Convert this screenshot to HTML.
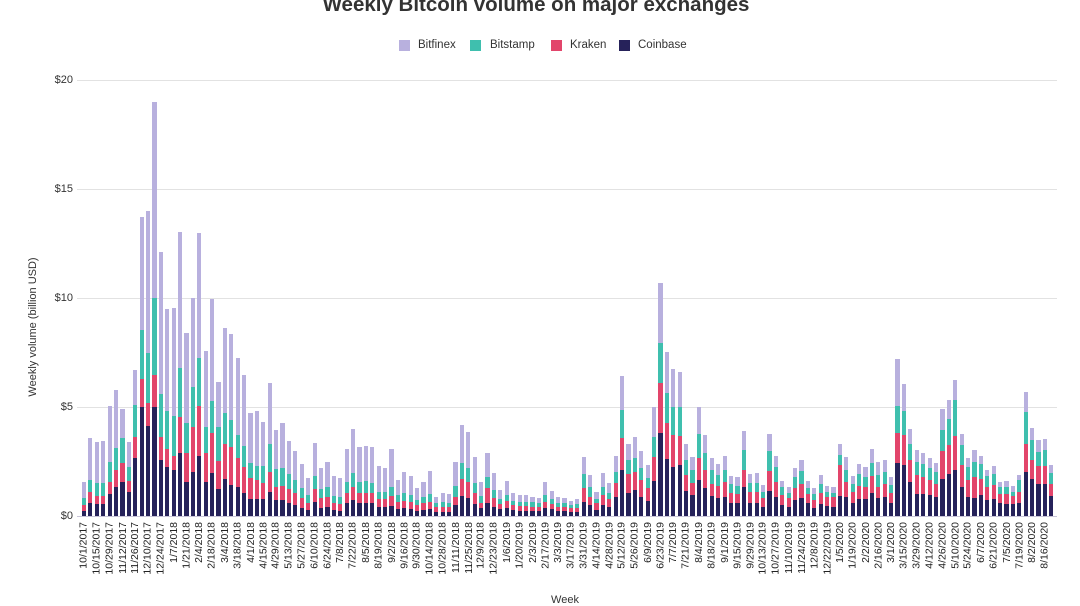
<!DOCTYPE html>
<html>
<head>
<meta charset="utf-8">
<style>
html,body{margin:0;padding:0;background:#fff;}
body{width:1080px;height:598px;overflow:hidden;position:relative;font-family:"Liberation Sans",Arial,sans-serif;color:#333;}
.title{position:absolute;left:0;top:-5px;width:1072px;text-align:center;font-size:20.5px;line-height:20px;font-weight:bold;color:#333;white-space:nowrap;}
.lg{position:absolute;top:40px;width:11px;height:11px;}
.lt{position:absolute;top:39px;font-size:11.5px;line-height:13px;color:#333;white-space:nowrap;}
.grid{position:absolute;left:77px;width:980px;height:1px;background:#e2e2e2;}
.yl{position:absolute;right:1007px;font-size:11px;line-height:12px;color:#333;text-align:right;white-space:nowrap;}
.ytitle{position:absolute;left:33px;top:327px;width:0;height:0;}
.ytitle span{position:absolute;left:-100px;top:-7px;width:200px;text-align:center;font-size:11px;line-height:14px;color:#333;transform:rotate(-90deg);transform-origin:50% 50%;white-space:nowrap;}
.bars{position:absolute;left:80.79px;top:516px;height:0;display:flex;}
.b{position:relative;flex:0 0 6.413px;width:6.413px;height:0;}
.b i{position:absolute;bottom:0;left:1.1px;width:4.2px;display:block;}
.b i:nth-child(1){height:calc(var(--t)*21.8px);background:#b8b0de;}
.b i:nth-child(2){height:calc(var(--s)*21.8px);background:#3fbfae;}
.b i:nth-child(3){height:calc(var(--k)*21.8px);background:#e2456b;}
.b i:nth-child(4){height:calc(var(--c)*21.8px);background:#26225a;}
.lx{position:absolute;left:80.79px;top:522px;height:0;display:flex;}
.l{position:relative;flex:0 0 12.826px;width:12.826px;height:0;}
.l span{position:absolute;right:9.62px;top:-6px;line-height:12px;font-size:10.5px;color:#222;white-space:nowrap;transform-origin:100% 50%;transform:rotate(-90deg);}
.xt{position:absolute;left:540px;width:50px;text-align:center;top:594px;font-size:11px;line-height:12px;color:#333;}
</style>
</head>
<body>
<div class="title">Weekly Bitcoin volume on major exchanges</div>

<div class="lg" style="left:399px;background:#b8b0de"></div><div class="lt" style="left:418px">Bitfinex</div>
<div class="lg" style="left:470px;background:#3fbfae"></div><div class="lt" style="left:490px">Bitstamp</div>
<div class="lg" style="left:551px;background:#e2456b"></div><div class="lt" style="left:570px">Kraken</div>
<div class="lg" style="left:619px;background:#26225a"></div><div class="lt" style="left:638px">Coinbase</div>

<div class="grid" style="top:80px"></div>
<div class="grid" style="top:189px"></div>
<div class="grid" style="top:298px"></div>
<div class="grid" style="top:407px"></div>
<div class="grid" style="top:516px;background:#c8c4d8"></div>

<div class="yl" style="top:74px">$20</div>
<div class="yl" style="top:183px">$15</div>
<div class="yl" style="top:292px">$10</div>
<div class="yl" style="top:401px">$5</div>
<div class="yl" style="top:510px">$0</div>

<div class="ytitle"><span>Weekly volume (billion USD)</span></div>

<div class="bars">
<div class="b" style="--t:1.57;--s:.81;--k:.5;--c:.24"><i></i><i></i><i></i><i></i></div>
<div class="b" style="--t:3.56;--s:1.65;--k:1.12;--c:.58"><i></i><i></i><i></i><i></i></div>
<div class="b" style="--t:3.38;--s:1.53;--k:.92;--c:.55"><i></i><i></i><i></i><i></i></div>
<div class="b" style="--t:3.44;--s:1.53;--k:.92;--c:.55"><i></i><i></i><i></i><i></i></div>
<div class="b" style="--t:5.06;--s:2.49;--k:1.57;--c:1.0"><i></i><i></i><i></i><i></i></div>
<div class="b" style="--t:5.78;--s:3.1;--k:2.11;--c:1.35"><i></i><i></i><i></i><i></i></div>
<div class="b" style="--t:4.89;--s:3.56;--k:2.42;--c:1.57"><i></i><i></i><i></i><i></i></div>
<div class="b" style="--t:3.38;--s:2.26;--k:1.62;--c:1.12"><i></i><i></i><i></i><i></i></div>
<div class="b" style="--t:6.7;--s:5.09;--k:3.64;--c:2.68"><i></i><i></i><i></i><i></i></div>
<div class="b" style="--t:13.73;--s:8.53;--k:6.27;--c:5.02"><i></i><i></i><i></i><i></i></div>
<div class="b" style="--t:13.99;--s:7.46;--k:5.17;--c:4.13"><i></i><i></i><i></i><i></i></div>
<div class="b" style="--t:19.0;--s:9.98;--k:6.47;--c:5.02"><i></i><i></i><i></i><i></i></div>
<div class="b" style="--t:12.13;--s:5.6;--k:3.61;--c:2.57"><i></i><i></i><i></i><i></i></div>
<div class="b" style="--t:9.48;--s:4.83;--k:3.06;--c:2.26"><i></i><i></i><i></i><i></i></div>
<div class="b" style="--t:9.56;--s:4.59;--k:2.75;--c:2.11"><i></i><i></i><i></i><i></i></div>
<div class="b" style="--t:13.01;--s:6.77;--k:4.56;--c:2.91"><i></i><i></i><i></i><i></i></div>
<div class="b" style="--t:8.41;--s:4.28;--k:2.91;--c:1.57"><i></i><i></i><i></i><i></i></div>
<div class="b" style="--t:9.98;--s:5.93;--k:4.07;--c:2.03"><i></i><i></i><i></i><i></i></div>
<div class="b" style="--t:13.0;--s:7.23;--k:5.05;--c:2.77"><i></i><i></i><i></i><i></i></div>
<div class="b" style="--t:7.57;--s:4.1;--k:2.87;--c:1.57"><i></i><i></i><i></i><i></i></div>
<div class="b" style="--t:9.94;--s:5.29;--k:3.79;--c:1.99"><i></i><i></i><i></i><i></i></div>
<div class="b" style="--t:6.16;--s:4.1;--k:2.54;--c:1.25"><i></i><i></i><i></i><i></i></div>
<div class="b" style="--t:8.61;--s:4.71;--k:3.29;--c:1.68"><i></i><i></i><i></i><i></i></div>
<div class="b" style="--t:8.33;--s:4.4;--k:3.15;--c:1.41"><i></i><i></i><i></i><i></i></div>
<div class="b" style="--t:7.23;--s:3.72;--k:2.65;--c:1.31"><i></i><i></i><i></i><i></i></div>
<div class="b" style="--t:6.47;--s:3.23;--k:2.23;--c:1.04"><i></i><i></i><i></i><i></i></div>
<div class="b" style="--t:4.74;--s:2.42;--k:1.73;--c:.8"><i></i><i></i><i></i><i></i></div>
<div class="b" style="--t:4.83;--s:2.31;--k:1.65;--c:.78"><i></i><i></i><i></i><i></i></div>
<div class="b" style="--t:4.3;--s:2.31;--k:1.53;--c:.8"><i></i><i></i><i></i><i></i></div>
<div class="b" style="--t:6.09;--s:3.3;--k:2.03;--c:1.09"><i></i><i></i><i></i><i></i></div>
<div class="b" style="--t:3.94;--s:2.14;--k:1.35;--c:.73"><i></i><i></i><i></i><i></i></div>
<div class="b" style="--t:4.28;--s:2.22;--k:1.38;--c:.73"><i></i><i></i><i></i><i></i></div>
<div class="b" style="--t:3.46;--s:1.93;--k:1.22;--c:.61"><i></i><i></i><i></i><i></i></div>
<div class="b" style="--t:3.0;--s:1.65;--k:1.07;--c:.5"><i></i><i></i><i></i><i></i></div>
<div class="b" style="--t:2.37;--s:1.27;--k:.81;--c:.38"><i></i><i></i><i></i><i></i></div>
<div class="b" style="--t:1.73;--s:.96;--k:.61;--c:.28"><i></i><i></i><i></i><i></i></div>
<div class="b" style="--t:3.33;--s:1.83;--k:1.22;--c:.66"><i></i><i></i><i></i><i></i></div>
<div class="b" style="--t:2.19;--s:1.22;--k:.81;--c:.38"><i></i><i></i><i></i><i></i></div>
<div class="b" style="--t:2.49;--s:1.31;--k:.89;--c:.43"><i></i><i></i><i></i><i></i></div>
<div class="b" style="--t:1.83;--s:.92;--k:.58;--c:.28"><i></i><i></i><i></i><i></i></div>
<div class="b" style="--t:1.73;--s:.89;--k:.55;--c:.24"><i></i><i></i><i></i><i></i></div>
<div class="b" style="--t:3.06;--s:1.57;--k:1.07;--c:.58"><i></i><i></i><i></i><i></i></div>
<div class="b" style="--t:3.99;--s:1.99;--k:1.31;--c:.73"><i></i><i></i><i></i><i></i></div>
<div class="b" style="--t:3.18;--s:1.57;--k:1.07;--c:.58"><i></i><i></i><i></i><i></i></div>
<div class="b" style="--t:3.23;--s:1.62;--k:1.07;--c:.58"><i></i><i></i><i></i><i></i></div>
<div class="b" style="--t:3.15;--s:1.53;--k:1.04;--c:.58"><i></i><i></i><i></i><i></i></div>
<div class="b" style="--t:2.31;--s:1.12;--k:.76;--c:.4"><i></i><i></i><i></i><i></i></div>
<div class="b" style="--t:2.22;--s:1.12;--k:.76;--c:.4"><i></i><i></i><i></i><i></i></div>
<div class="b" style="--t:3.07;--s:1.35;--k:.92;--c:.46"><i></i><i></i><i></i><i></i></div>
<div class="b" style="--t:1.65;--s:.96;--k:.66;--c:.31"><i></i><i></i><i></i><i></i></div>
<div class="b" style="--t:2.0;--s:1.04;--k:.7;--c:.35"><i></i><i></i><i></i><i></i></div>
<div class="b" style="--t:1.83;--s:.96;--k:.66;--c:.31"><i></i><i></i><i></i><i></i></div>
<div class="b" style="--t:1.27;--s:.73;--k:.5;--c:.24"><i></i><i></i><i></i><i></i></div>
<div class="b" style="--t:1.57;--s:.89;--k:.58;--c:.28"><i></i><i></i><i></i><i></i></div>
<div class="b" style="--t:2.06;--s:.99;--k:.66;--c:.34"><i></i><i></i><i></i><i></i></div>
<div class="b" style="--t:.89;--s:.58;--k:.4;--c:.2"><i></i><i></i><i></i><i></i></div>
<div class="b" style="--t:1.07;--s:.66;--k:.43;--c:.2"><i></i><i></i><i></i><i></i></div>
<div class="b" style="--t:.99;--s:.58;--k:.4;--c:.2"><i></i><i></i><i></i><i></i></div>
<div class="b" style="--t:2.46;--s:1.38;--k:.89;--c:.5"><i></i><i></i><i></i><i></i></div>
<div class="b" style="--t:4.17;--s:2.42;--k:1.68;--c:.92"><i></i><i></i><i></i><i></i></div>
<div class="b" style="--t:3.84;--s:2.22;--k:1.57;--c:.81"><i></i><i></i><i></i><i></i></div>
<div class="b" style="--t:2.72;--s:1.53;--k:1.04;--c:.55"><i></i><i></i><i></i><i></i></div>
<div class="b" style="--t:1.57;--s:.92;--k:.61;--c:.35"><i></i><i></i><i></i><i></i></div>
<div class="b" style="--t:2.9;--s:1.8;--k:1.27;--c:.58"><i></i><i></i><i></i><i></i></div>
<div class="b" style="--t:1.99;--s:1.19;--k:.81;--c:.43"><i></i><i></i><i></i><i></i></div>
<div class="b" style="--t:1.19;--s:.76;--k:.55;--c:.31"><i></i><i></i><i></i><i></i></div>
<div class="b" style="--t:1.62;--s:.96;--k:.7;--c:.35"><i></i><i></i><i></i><i></i></div>
<div class="b" style="--t:1.07;--s:.7;--k:.5;--c:.28"><i></i><i></i><i></i><i></i></div>
<div class="b" style="--t:.95;--s:.66;--k:.46;--c:.24"><i></i><i></i><i></i><i></i></div>
<div class="b" style="--t:.95;--s:.64;--k:.46;--c:.24"><i></i><i></i><i></i><i></i></div>
<div class="b" style="--t:.89;--s:.63;--k:.43;--c:.24"><i></i><i></i><i></i><i></i></div>
<div class="b" style="--t:.81;--s:.58;--k:.4;--c:.21"><i></i><i></i><i></i><i></i></div>
<div class="b" style="--t:1.57;--s:.95;--k:.64;--c:.35"><i></i><i></i><i></i><i></i></div>
<div class="b" style="--t:1.15;--s:.76;--k:.55;--c:.31"><i></i><i></i><i></i><i></i></div>
<div class="b" style="--t:.86;--s:.61;--k:.43;--c:.23"><i></i><i></i><i></i><i></i></div>
<div class="b" style="--t:.81;--s:.58;--k:.4;--c:.21"><i></i><i></i><i></i><i></i></div>
<div class="b" style="--t:.7;--s:.5;--k:.35;--c:.18"><i></i><i></i><i></i><i></i></div>
<div class="b" style="--t:.76;--s:.53;--k:.38;--c:.2"><i></i><i></i><i></i><i></i></div>
<div class="b" style="--t:2.72;--s:1.93;--k:1.27;--c:.63"><i></i><i></i><i></i><i></i></div>
<div class="b" style="--t:1.87;--s:1.31;--k:.89;--c:.5"><i></i><i></i><i></i><i></i></div>
<div class="b" style="--t:1.12;--s:.76;--k:.58;--c:.28"><i></i><i></i><i></i><i></i></div>
<div class="b" style="--t:1.96;--s:1.35;--k:.96;--c:.5"><i></i><i></i><i></i><i></i></div>
<div class="b" style="--t:1.5;--s:1.07;--k:.76;--c:.4"><i></i><i></i><i></i><i></i></div>
<div class="b" style="--t:2.75;--s:2.03;--k:1.5;--c:.86"><i></i><i></i><i></i><i></i></div>
<div class="b" style="--t:6.42;--s:4.86;--k:3.56;--c:2.11"><i></i><i></i><i></i><i></i></div>
<div class="b" style="--t:3.3;--s:2.57;--k:1.93;--c:1.04"><i></i><i></i><i></i><i></i></div>
<div class="b" style="--t:3.61;--s:2.65;--k:2.03;--c:1.19"><i></i><i></i><i></i><i></i></div>
<div class="b" style="--t:2.98;--s:2.19;--k:1.65;--c:.86"><i></i><i></i><i></i><i></i></div>
<div class="b" style="--t:2.34;--s:1.73;--k:1.27;--c:.7"><i></i><i></i><i></i><i></i></div>
<div class="b" style="--t:5.02;--s:3.61;--k:2.72;--c:1.62"><i></i><i></i><i></i><i></i></div>
<div class="b" style="--t:10.7;--s:7.95;--k:6.09;--c:3.82"><i></i><i></i><i></i><i></i></div>
<div class="b" style="--t:7.54;--s:5.66;--k:4.25;--c:2.63"><i></i><i></i><i></i><i></i></div>
<div class="b" style="--t:6.73;--s:5.02;--k:3.72;--c:2.26"><i></i><i></i><i></i><i></i></div>
<div class="b" style="--t:6.6;--s:5.0;--k:3.66;--c:2.33"><i></i><i></i><i></i><i></i></div>
<div class="b" style="--t:3.32;--s:2.59;--k:1.88;--c:1.16"><i></i><i></i><i></i><i></i></div>
<div class="b" style="--t:2.71;--s:2.1;--k:1.52;--c:.96"><i></i><i></i><i></i><i></i></div>
<div class="b" style="--t:5.0;--s:3.78;--k:2.68;--c:1.65"><i></i><i></i><i></i><i></i></div>
<div class="b" style="--t:3.7;--s:2.9;--k:2.1;--c:1.3"><i></i><i></i><i></i><i></i></div>
<div class="b" style="--t:2.68;--s:2.1;--k:1.49;--c:.91"><i></i><i></i><i></i><i></i></div>
<div class="b" style="--t:2.38;--s:1.88;--k:1.37;--c:.82"><i></i><i></i><i></i><i></i></div>
<div class="b" style="--t:2.74;--s:2.13;--k:1.57;--c:.85"><i></i><i></i><i></i><i></i></div>
<div class="b" style="--t:1.83;--s:1.46;--k:1.07;--c:.61"><i></i><i></i><i></i><i></i></div>
<div class="b" style="--t:1.77;--s:1.37;--k:1.01;--c:.58"><i></i><i></i><i></i><i></i></div>
<div class="b" style="--t:3.9;--s:3.05;--k:2.13;--c:1.31"><i></i><i></i><i></i><i></i></div>
<div class="b" style="--t:1.95;--s:1.52;--k:1.11;--c:.58"><i></i><i></i><i></i><i></i></div>
<div class="b" style="--t:1.98;--s:1.52;--k:1.11;--c:.58"><i></i><i></i><i></i><i></i></div>
<div class="b" style="--t:1.42;--s:1.11;--k:.81;--c:.43"><i></i><i></i><i></i><i></i></div>
<div class="b" style="--t:3.75;--s:2.99;--k:2.07;--c:1.16"><i></i><i></i><i></i><i></i></div>
<div class="b" style="--t:2.74;--s:2.26;--k:1.57;--c:.88"><i></i><i></i><i></i><i></i></div>
<div class="b" style="--t:1.62;--s:1.31;--k:.96;--c:.5"><i></i><i></i><i></i><i></i></div>
<div class="b" style="--t:1.34;--s:1.07;--k:.81;--c:.43"><i></i><i></i><i></i><i></i></div>
<div class="b" style="--t:2.21;--s:1.77;--k:1.27;--c:.73"><i></i><i></i><i></i><i></i></div>
<div class="b" style="--t:2.59;--s:2.07;--k:1.46;--c:.81"><i></i><i></i><i></i><i></i></div>
<div class="b" style="--t:1.62;--s:1.27;--k:1.01;--c:.58"><i></i><i></i><i></i><i></i></div>
<div class="b" style="--t:1.27;--s:1.01;--k:.73;--c:.35"><i></i><i></i><i></i><i></i></div>
<div class="b" style="--t:1.88;--s:1.46;--k:1.07;--c:.55"><i></i><i></i><i></i><i></i></div>
<div class="b" style="--t:1.37;--s:1.11;--k:.88;--c:.47"><i></i><i></i><i></i><i></i></div>
<div class="b" style="--t:1.34;--s:1.07;--k:.85;--c:.43"><i></i><i></i><i></i><i></i></div>
<div class="b" style="--t:3.32;--s:2.79;--k:2.33;--c:.91"><i></i><i></i><i></i><i></i></div>
<div class="b" style="--t:2.71;--s:2.13;--k:1.57;--c:.88"><i></i><i></i><i></i><i></i></div>
<div class="b" style="--t:1.83;--s:1.46;--k:1.11;--c:.58"><i></i><i></i><i></i><i></i></div>
<div class="b" style="--t:2.38;--s:1.95;--k:1.37;--c:.76"><i></i><i></i><i></i><i></i></div>
<div class="b" style="--t:2.26;--s:1.8;--k:1.31;--c:.76"><i></i><i></i><i></i><i></i></div>
<div class="b" style="--t:3.09;--s:2.44;--k:1.83;--c:1.07"><i></i><i></i><i></i><i></i></div>
<div class="b" style="--t:2.48;--s:1.88;--k:1.34;--c:.81"><i></i><i></i><i></i><i></i></div>
<div class="b" style="--t:2.59;--s:2.03;--k:1.49;--c:.88"><i></i><i></i><i></i><i></i></div>
<div class="b" style="--t:1.77;--s:1.42;--k:1.07;--c:.58"><i></i><i></i><i></i><i></i></div>
<div class="b" style="--t:7.21;--s:5.03;--k:3.81;--c:2.41"><i></i><i></i><i></i><i></i></div>
<div class="b" style="--t:6.04;--s:4.82;--k:3.7;--c:2.33"><i></i><i></i><i></i><i></i></div>
<div class="b" style="--t:4.01;--s:3.32;--k:2.56;--c:1.57"><i></i><i></i><i></i><i></i></div>
<div class="b" style="--t:3.05;--s:2.48;--k:1.88;--c:1.01"><i></i><i></i><i></i><i></i></div>
<div class="b" style="--t:2.87;--s:2.38;--k:1.8;--c:1.01"><i></i><i></i><i></i><i></i></div>
<div class="b" style="--t:2.64;--s:2.18;--k:1.65;--c:.96"><i></i><i></i><i></i><i></i></div>
<div class="b" style="--t:2.44;--s:2.03;--k:1.49;--c:.88"><i></i><i></i><i></i><i></i></div>
<div class="b" style="--t:4.92;--s:3.96;--k:2.99;--c:1.72"><i></i><i></i><i></i><i></i></div>
<div class="b" style="--t:5.3;--s:4.47;--k:3.25;--c:1.91"><i></i><i></i><i></i><i></i></div>
<div class="b" style="--t:6.25;--s:5.3;--k:3.66;--c:2.13"><i></i><i></i><i></i><i></i></div>
<div class="b" style="--t:3.78;--s:3.25;--k:2.33;--c:1.31"><i></i><i></i><i></i><i></i></div>
<div class="b" style="--t:2.64;--s:2.26;--k:1.65;--c:.85"><i></i><i></i><i></i><i></i></div>
<div class="b" style="--t:3.02;--s:2.48;--k:1.8;--c:.81"><i></i><i></i><i></i><i></i></div>
<div class="b" style="--t:2.74;--s:2.38;--k:1.68;--c:.96"><i></i><i></i><i></i><i></i></div>
<div class="b" style="--t:2.1;--s:1.83;--k:1.34;--c:.73"><i></i><i></i><i></i><i></i></div>
<div class="b" style="--t:2.29;--s:1.95;--k:1.42;--c:.76"><i></i><i></i><i></i><i></i></div>
<div class="b" style="--t:1.57;--s:1.34;--k:1.01;--c:.58"><i></i><i></i><i></i><i></i></div>
<div class="b" style="--t:1.62;--s:1.34;--k:1.01;--c:.55"><i></i><i></i><i></i><i></i></div>
<div class="b" style="--t:1.37;--s:1.11;--k:.91;--c:.55"><i></i><i></i><i></i><i></i></div>
<div class="b" style="--t:1.88;--s:1.65;--k:1.11;--c:.61"><i></i><i></i><i></i><i></i></div>
<div class="b" style="--t:5.69;--s:4.77;--k:3.32;--c:2.01"><i></i><i></i><i></i><i></i></div>
<div class="b" style="--t:4.05;--s:3.48;--k:2.56;--c:1.68"><i></i><i></i><i></i><i></i></div>
<div class="b" style="--t:3.48;--s:2.94;--k:2.29;--c:1.46"><i></i><i></i><i></i><i></i></div>
<div class="b" style="--t:3.55;--s:3.02;--k:2.29;--c:1.45"><i></i><i></i><i></i><i></i></div>
<div class="b" style="--t:2.33;--s:1.98;--k:1.49;--c:.91"><i></i><i></i><i></i><i></i></div>
</div>

<div class="lx">
<div class="l"><span>10/1/2017</span></div>
<div class="l"><span>10/15/2017</span></div>
<div class="l"><span>10/29/2017</span></div>
<div class="l"><span>11/12/2017</span></div>
<div class="l"><span>11/26/2017</span></div>
<div class="l"><span>12/10/2017</span></div>
<div class="l"><span>12/24/2017</span></div>
<div class="l"><span>1/7/2018</span></div>
<div class="l"><span>1/21/2018</span></div>
<div class="l"><span>2/4/2018</span></div>
<div class="l"><span>2/18/2018</span></div>
<div class="l"><span>3/4/2018</span></div>
<div class="l"><span>3/18/2018</span></div>
<div class="l"><span>4/1/2018</span></div>
<div class="l"><span>4/15/2018</span></div>
<div class="l"><span>4/29/2018</span></div>
<div class="l"><span>5/13/2018</span></div>
<div class="l"><span>5/27/2018</span></div>
<div class="l"><span>6/10/2018</span></div>
<div class="l"><span>6/24/2018</span></div>
<div class="l"><span>7/8/2018</span></div>
<div class="l"><span>7/22/2018</span></div>
<div class="l"><span>8/5/2018</span></div>
<div class="l"><span>8/19/2018</span></div>
<div class="l"><span>9/2/2018</span></div>
<div class="l"><span>9/16/2018</span></div>
<div class="l"><span>9/30/2018</span></div>
<div class="l"><span>10/14/2018</span></div>
<div class="l"><span>10/28/2018</span></div>
<div class="l"><span>11/11/2018</span></div>
<div class="l"><span>11/25/2018</span></div>
<div class="l"><span>12/9/2018</span></div>
<div class="l"><span>12/23/2018</span></div>
<div class="l"><span>1/6/2019</span></div>
<div class="l"><span>1/20/2019</span></div>
<div class="l"><span>2/3/2019</span></div>
<div class="l"><span>2/17/2019</span></div>
<div class="l"><span>3/3/2019</span></div>
<div class="l"><span>3/17/2019</span></div>
<div class="l"><span>3/31/2019</span></div>
<div class="l"><span>4/14/2019</span></div>
<div class="l"><span>4/28/2019</span></div>
<div class="l"><span>5/12/2019</span></div>
<div class="l"><span>5/26/2019</span></div>
<div class="l"><span>6/9/2019</span></div>
<div class="l"><span>6/23/2019</span></div>
<div class="l"><span>7/7/2019</span></div>
<div class="l"><span>7/21/2019</span></div>
<div class="l"><span>8/4/2019</span></div>
<div class="l"><span>8/18/2019</span></div>
<div class="l"><span>9/1/2019</span></div>
<div class="l"><span>9/15/2019</span></div>
<div class="l"><span>9/29/2019</span></div>
<div class="l"><span>10/13/2019</span></div>
<div class="l"><span>10/27/2019</span></div>
<div class="l"><span>11/10/2019</span></div>
<div class="l"><span>11/24/2019</span></div>
<div class="l"><span>12/8/2019</span></div>
<div class="l"><span>12/22/2019</span></div>
<div class="l"><span>1/5/2020</span></div>
<div class="l"><span>1/19/2020</span></div>
<div class="l"><span>2/2/2020</span></div>
<div class="l"><span>2/16/2020</span></div>
<div class="l"><span>3/1/2020</span></div>
<div class="l"><span>3/15/2020</span></div>
<div class="l"><span>3/29/2020</span></div>
<div class="l"><span>4/12/2020</span></div>
<div class="l"><span>4/26/2020</span></div>
<div class="l"><span>5/10/2020</span></div>
<div class="l"><span>5/24/2020</span></div>
<div class="l"><span>6/7/2020</span></div>
<div class="l"><span>6/21/2020</span></div>
<div class="l"><span>7/5/2020</span></div>
<div class="l"><span>7/19/2020</span></div>
<div class="l"><span>8/2/2020</span></div>
<div class="l"><span>8/16/2020</span></div>
</div>

<div class="xt">Week</div>
</body>
</html>
